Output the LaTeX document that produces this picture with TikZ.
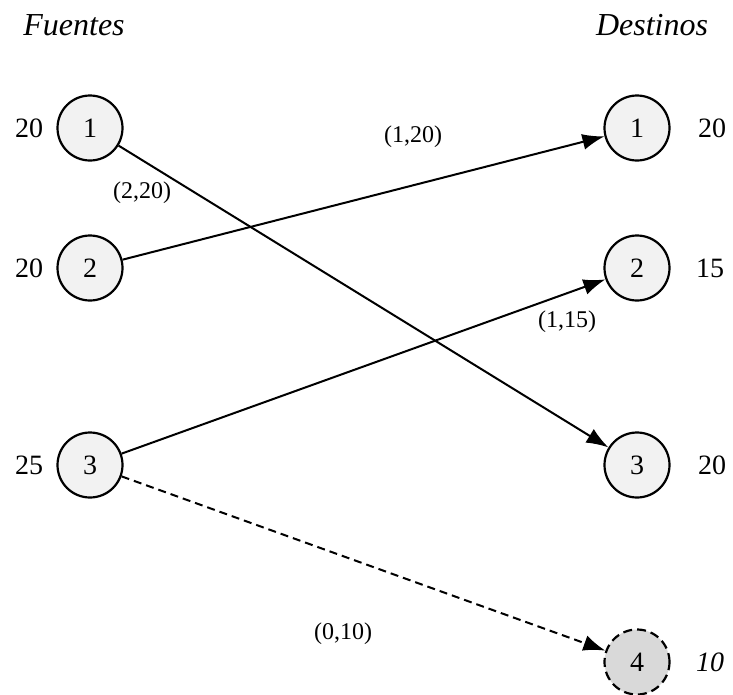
\documentclass[tikz,border=0pt]{standalone}
\usepackage{fontspec}
\setmainfont{Liberation Serif}
\usepackage{tikz}
\usetikzlibrary{arrows.meta}

\begin{document}
\begin{tikzpicture}[x=1pt, y=-1pt,
  nodo/.style={circle, draw, line width=2.2pt, fill=gray!10, minimum size=65pt, inner sep=0pt, font=\fontsize{28}{30}\selectfont},
  cantidad/.style={font=\fontsize{28}{30}\selectfont},
  costo/.style={font=\fontsize{24}{26}\selectfont},
  arco/.style={-{Latex[length=22pt,width=16pt]}, line width=2pt}]
\useasboundingbox (0,0) rectangle (733,694);

% Titles
\node[font=\fontsize{32}{34}\selectfont\itshape] (tf) at (74,25) {Fuentes};
\node[font=\fontsize{32}{34}\selectfont\itshape] (td) at (652,25) {Destinos};

% Sources
\node[nodo] (f1) at (90,128) {1};
\node[nodo] (f2) at (90,268) {2};
\node[nodo] (f3) at (90,465) {3};
\node[cantidad] (of1) at (29,128) {20};
\node[cantidad] (of2) at (29,268) {20};
\node[cantidad] (of3) at (29,465) {25};

% Destinations
\node[nodo] (d1) at (637,128) {1};
\node[nodo] (d2) at (637,268) {2};
\node[nodo] (d3) at (637,465) {3};
\node[nodo, fill=gray!30, dash pattern=on 9pt off 5pt] (d4) at (637,662) {4};
\node[cantidad] (de1) at (712,128) {20};
\node[cantidad] (de2) at (710,268) {15};
\node[cantidad] (de3) at (712,465) {20};
\node[cantidad, font=\fontsize{28}{30}\selectfont\itshape] (de4) at (710,662) {10};

% Arcs
\draw[arco] (f1) -- (d3);
\draw[arco] (f2) -- (d1);
\draw[arco] (f3) -- (d2);
\draw[arco, dash pattern=on 8pt off 5pt] (f3) -- (d4);

% Labels (cost, flow)
\node[costo] (c13) at (142,193) {(2,20)};
\node[costo] (c21) at (413,137) {(1,20)};
\node[costo] (c32) at (567,322) {(1,15)};
\node[costo] (c34) at (343,634) {(0,10)};
\end{tikzpicture}
\end{document}
